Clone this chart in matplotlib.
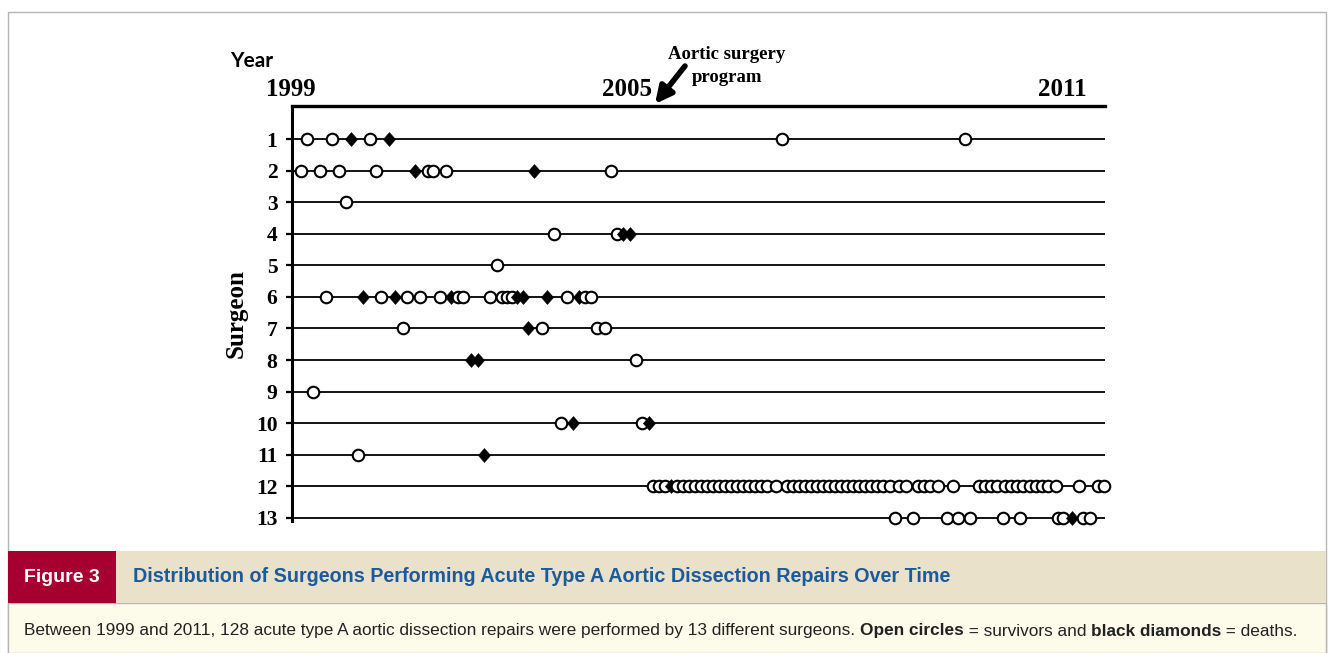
import matplotlib
matplotlib.use("Agg")
import matplotlib.pyplot as plt
from matplotlib.patches import Rectangle
from matplotlib.path import Path

# surgeons 1..13, dates of each repair as decimal years
surgeons = list(range(1, 14))

survivors = [
    [1999.24, 1999.64, 2000.25, 2006.83, 2009.76],
    [1999.14, 1999.45, 1999.75, 2000.35, 2001.17, 2001.26, 2001.47, 2004.10],
    [1999.86],
    [2003.19, 2004.19],
    [2002.28],
    [1999.55, 2000.43, 2000.84, 2001.05, 2001.36, 2001.66, 2001.74, 2002.17,
     2002.35, 2002.43, 2002.51, 2003.39, 2003.69, 2003.78],
    [2000.77, 2003.00, 2003.88, 2004.00],
    [2004.50],
    [1999.34],
    [2003.30, 2004.59],
    [2000.05],
    [2004.77, 2004.87, 2004.96, 2005.16, 2005.25, 2005.35, 2005.44, 2005.54,
     2005.64, 2005.73, 2005.83, 2005.92, 2006.02, 2006.12, 2006.21, 2006.31,
     2006.40, 2006.50, 2006.60, 2006.74,
     2006.91, 2007.01, 2007.11, 2007.20, 2007.30, 2007.39, 2007.49, 2007.59,
     2007.68, 2007.78, 2007.87, 2007.97, 2008.07, 2008.16, 2008.26, 2008.35,
     2008.45, 2008.56,
     2008.71, 2008.82, 2009.01, 2009.11, 2009.20, 2009.33, 2009.57,
     2009.98, 2010.08, 2010.18, 2010.27, 2010.40, 2010.50, 2010.59, 2010.69,
     2010.80, 2010.90, 2010.99, 2011.09, 2011.22,
     2011.58, 2011.89, 2011.98],
    [2008.64, 2008.93, 2009.47, 2009.65, 2009.84, 2010.37, 2010.64, 2011.25,
     2011.33, 2011.65, 2011.76],
]

deaths = [
    [1999.94, 2000.55],
    [2000.97, 2002.87],
    [],
    [2004.29, 2004.41],
    [],
    [2000.14, 2000.65, 2001.55, 2002.59, 2002.69, 2003.07, 2003.59],
    [2002.78],
    [2001.86, 2001.98],
    [],
    [2003.49, 2004.71],
    [2002.07],
    [2005.06],
    [2011.47],
]

year_labels = ["1999", "2005", "2011"]

W, H = 1334, 653
SERIF = "Liberation Serif"
SANS = "Liberation Sans"


def fx(px):
    return px / W


def fy(py):
    return 1 - py / H


fig = plt.figure(figsize=(W / 100, H / 100), dpi=100)

# frame, banner and caption background
fig.patches.append(Rectangle((fx(8), fy(653)), fx(1318), 641 / H, transform=fig.transFigure,
                             facecolor="white", edgecolor="#b5b5b5", lw=1.0, zorder=-5))
fig.patches.append(Rectangle((fx(8), fy(653)), fx(1318), 50 / H, transform=fig.transFigure,
                             facecolor="#fdfbea", edgecolor="#b5b5b5", lw=1.0, zorder=-4))
fig.patches.append(Rectangle((fx(8), fy(603)), fx(1318), 52 / H, transform=fig.transFigure,
                             facecolor="#e9e1c9", edgecolor="none", zorder=-3))
fig.patches.append(Rectangle((fx(8), fy(603)), fx(108), 52 / H, transform=fig.transFigure,
                             facecolor="#a5002f", edgecolor="none", zorder=-2))

ax = fig.add_axes([fx(292), fy(521), fx(1105 - 292), (521 - 106) / H])
ax.set_xlim(1999, 2012)
ax.set_ylim(13.1, -0.05)
ax.patch.set_alpha(0)

ax.hlines(surgeons, 1999, 2012, color="black", lw=1.3, zorder=1)

diamond = Path([(0, 1), (0.88, 0), (0, -1), (-0.88, 0), (0, 1)],
               [Path.MOVETO, Path.LINETO, Path.LINETO, Path.LINETO, Path.CLOSEPOLY])

z = 2
for s, alive, dead in zip(surgeons, survivors, deaths):
    events = [(x, False) for x in alive] + [(x, True) for x in dead]
    events.sort()
    for x, died in events:
        if died:
            ax.plot([x], [s], marker=diamond, ms=10, color="black", mew=0.4,
                    linestyle="none", zorder=z, clip_on=False)
        else:
            ax.plot([x], [s], marker="o", ms=8.3, mfc="white", mec="black", mew=1.5,
                    linestyle="none", zorder=z, clip_on=False)
        z += 1

for side in ["right", "bottom"]:
    ax.spines[side].set_visible(False)
ax.spines["top"].set_linewidth(2.4)
ax.spines["left"].set_linewidth(2.2)
ax.set_yticks(surgeons)
ax.set_yticklabels([str(s) for s in surgeons], fontfamily=SERIF, fontweight="bold",
                   fontsize=15.5)
ax.tick_params(axis="y", length=4.5, width=1.6, pad=6)
ax.set_xticks([])

ax.set_ylabel("Surgeon", fontfamily=SERIF, fontweight="bold", fontsize=18, labelpad=6)

# year markers along the top
fig.text(fx(291), fy(96), year_labels[0], ha="center", va="baseline",
         fontfamily=SERIF, fontweight="bold", fontsize=18)
fig.text(fx(652), fy(96), year_labels[1], ha="right", va="baseline",
         fontfamily=SERIF, fontweight="bold", fontsize=18)
fig.text(fx(1087), fy(96), year_labels[2], ha="right", va="baseline",
         fontfamily=SERIF, fontweight="bold", fontsize=18)
fig.text(fx(230), fy(67), "Year", ha="left", va="baseline",
         fontfamily="Lato", fontweight="bold", fontsize=15)

fig.text(fx(727), fy(59), "Aortic surgery", ha="center", va="baseline",
         fontfamily=SERIF, fontweight="bold", fontsize=13.5)
fig.text(fx(727), fy(82), "program", ha="center", va="baseline",
         fontfamily=SERIF, fontweight="bold", fontsize=13.5)
fig.add_artist(matplotlib.text.Annotation(
    "", xy=(655, H - 104), xytext=(685, H - 66),
    xycoords="figure pixels", textcoords="figure pixels",
    arrowprops=dict(arrowstyle="-|>,head_width=0.5,head_length=1.0",
                    lw=4, color="black", shrinkA=0, shrinkB=0)))

# banner text
fig.text(fx(62), fy(577), "Figure 3", ha="center", va="center", color="white",
         fontfamily=SANS, fontweight="bold", fontsize=14)
fig.text(fx(133), fy(577),
         "Distribution of Surgeons Performing Acute Type A Aortic Dissection Repairs Over Time",
         ha="left", va="center", color="#1b5a9c", fontfamily=SANS,
         fontweight="bold", fontsize=14.2)

# caption with bold pieces
pieces = [
    ("Between 1999 and 2011, 128 acute type A aortic dissection repairs were performed "
     "by 13 different surgeons. ", "normal"),
    ("Open circles", "bold"),
    (" = survivors and ", "normal"),
    ("black diamonds", "bold"),
    (" = deaths.", "normal"),
]
renderer = fig.canvas.get_renderer()
xpos = fx(24)
for txt, wt in pieces:
    t = fig.text(xpos, fy(631), txt, ha="left", va="center", fontfamily=SANS,
                 fontweight=wt, fontsize=12.4, color="#222222")
    xpos += t.get_window_extent(renderer=renderer).width / W

fig.savefig("out.png", dpi=100)
